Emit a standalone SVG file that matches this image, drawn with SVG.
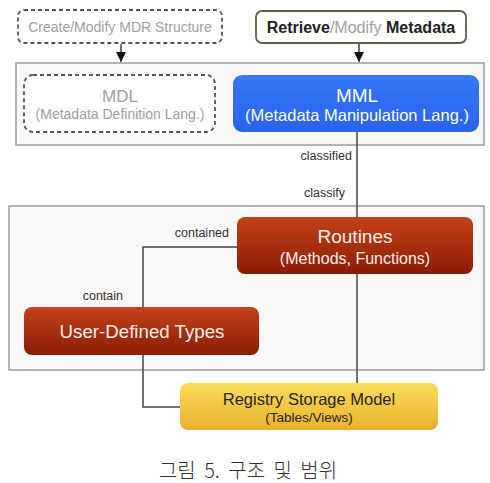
<svg xmlns="http://www.w3.org/2000/svg" width="490" height="483" viewBox="0 0 490 483">
<style>
text{font-family:"Liberation Sans",Arial,sans-serif;}
.frame{fill:#faf9f8;stroke:#9a9a9a;stroke-width:1.5;}
.dash{fill:#ffffff;stroke:#555;stroke-width:1.8;stroke-dasharray:4 3;}
.gray{fill:#a0a0a0;}
.dark{fill:#222;}
.white{fill:#ffffff;}
.lbl{font-size:12.5px;fill:#333;text-anchor:end;}
.conn{fill:none;stroke:#444;stroke-width:1.5;}
.mid{text-anchor:middle;}
</style>
<defs>
<linearGradient id="red" x1="0" y1="0" x2="0" y2="1">
<stop offset="0" stop-color="#c2421a"/>
<stop offset="1" stop-color="#8c1d05"/>
</linearGradient>
<linearGradient id="yel" x1="0" y1="0" x2="0" y2="1">
<stop offset="0" stop-color="#fadd5c"/>
<stop offset="1" stop-color="#e8b02b"/>
</linearGradient>
<linearGradient id="blu" x1="0" y1="0" x2="0" y2="1">
<stop offset="0" stop-color="#3577f8"/>
<stop offset="1" stop-color="#2a63ee"/>
</linearGradient>
<marker id="arr" viewBox="0 0 10 10" refX="10" refY="5" markerWidth="10" markerHeight="10" markerUnits="userSpaceOnUse" orient="auto">
<path d="M0,0 L10,5 L0,10 z" fill="#111"/>
</marker>
</defs>
<rect x="0" y="0" width="490" height="483" fill="#ffffff"/>

<g id="frame-top"><rect class="frame" x="16" y="63" width="468" height="82"/></g>
<g id="frame-bottom"><rect class="frame" x="9" y="206" width="475" height="164"/></g>

<g id="connectors">
<line class="conn" x1="121" y1="44" x2="121" y2="62" marker-end="url(#arr)"/>
<line class="conn" x1="359" y1="44" x2="359" y2="62" marker-end="url(#arr)"/>
<line class="conn" x1="357" y1="132" x2="357" y2="217"/>
<polyline class="conn" points="237,247 143,247 143,307"/>
<polyline class="conn" points="143,355 143,407 180,407"/>
<line class="conn" x1="357" y1="274" x2="357" y2="383"/>
<text class="lbl" x="352" y="160">classified</text>
<text class="lbl" x="345" y="197">classify</text>
<text class="lbl" x="229" y="237">contained</text>
<text class="lbl" x="123" y="300">contain</text>
</g>

<g id="create">
<rect class="dash" x="18" y="10" width="204" height="33" rx="6"/>
<text class="gray mid" x="120" y="32" font-size="14">Create/Modify MDR Structure</text>
</g>

<g id="retrieve">
<rect x="256" y="11" width="210" height="32" rx="6" fill="#fff" stroke="#6b5a48" stroke-width="1.8"/>
<text class="mid" x="361" y="33" font-size="16"><tspan class="dark" font-weight="bold">Retrieve</tspan><tspan class="gray">/Modify </tspan><tspan class="dark" font-weight="bold">Metadata</tspan></text>
</g>

<g id="mdl">
<rect class="dash" x="24" y="75" width="191" height="57" rx="9"/>
<text class="gray mid" x="120" y="102" font-size="17">MDL</text>
<text class="gray mid" x="120" y="119" font-size="14">(Metadata Definition Lang.)</text>
</g>

<g id="mml">
<rect x="233" y="75" width="246" height="57" rx="9" fill="url(#blu)"/>
<text class="white mid" x="357" y="102" font-size="19">MML</text>
<text class="white mid" x="357" y="121" font-size="16.5">(Metadata Manipulation Lang.)</text>
</g>

<g id="routines">
<rect x="237" y="217" width="236" height="57" rx="8" fill="url(#red)"/>
<text class="mid" x="355" y="243" font-size="19" fill="#fbefea">Routines</text>
<text class="mid" x="355" y="264" font-size="16" fill="#fbefea">(Methods, Functions)</text>
</g>

<g id="udt">
<rect x="24" y="307" width="235" height="48" rx="8" fill="url(#red)"/>
<text class="mid" x="142" y="338" font-size="18.7" fill="#fbefea">User-Defined Types</text>
</g>

<g id="registry">
<rect x="180" y="383" width="258" height="47" rx="8" fill="url(#yel)"/>
<text class="mid" x="309" y="405" font-size="16.5" fill="#2a2418">Registry Storage Model</text>
<text class="mid" x="309" y="422" font-size="13.5" fill="#2a2418">(Tables/Views)</text>
</g>

<g id="caption">
<text class="mid" x="248" y="478" font-size="20" fill="#333" word-spacing="4" style="font-family:'Noto Sans CJK KR','Noto Sans',sans-serif;font-weight:300">그림 5. 구조 및 범위</text>
</g>
</svg>
